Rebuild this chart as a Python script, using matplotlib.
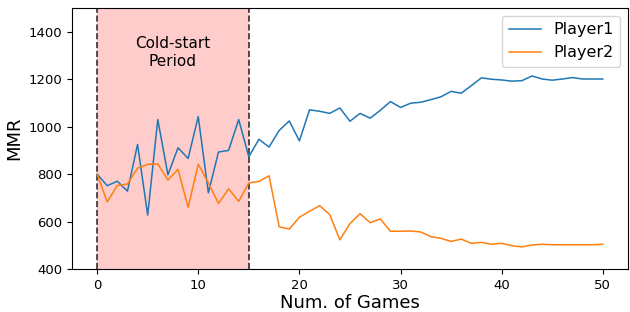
import matplotlib
matplotlib.use("Agg")
import matplotlib.pyplot as plt

games = list(range(51))

player1 = [800, 751, 770, 728, 925, 627, 1030, 797, 911, 866,
           1043, 721, 893, 900, 1030, 873, 947, 914, 984, 1024,
           940, 1071, 1065, 1056, 1079, 1023, 1056, 1036, 1069, 1106,
           1081, 1099, 1103, 1114, 1126, 1149, 1141, 1173, 1206, 1200,
           1197, 1192, 1194, 1214, 1201, 1196, 1201, 1207, 1201, 1201,
           1201]

player2 = [800, 683, 752, 758, 825, 841, 843, 775, 820, 660,
           842, 763, 676, 738, 685, 763, 769, 793, 578, 568,
           618, 643, 667, 629, 523, 591, 633, 595, 611, 559,
           559, 560, 556, 536, 529, 516, 526, 508, 512, 504,
           508, 498, 493, 501, 504, 502, 502, 502, 502, 502,
           504]

cold_start_end = 15

fig = plt.figure(figsize=(6.3, 3.12), dpi=100)
ax = fig.add_axes([0.114, 0.138, 0.883, 0.836])

ax.axvspan(0, cold_start_end, color="red", alpha=0.2, lw=0)
ax.axvline(0, color="black", ls="--", lw=1.2, alpha=0.8)
ax.axvline(cold_start_end, color="black", ls="--", lw=1.2, alpha=0.8)
ax.text(cold_start_end / 2, 1312, "Cold-start\nPeriod", ha="center",
        va="center", fontsize=11)

ax.plot(games, player1, lw=1.1, label="Player1")
ax.plot(games, player2, lw=1.1, label="Player2")

ax.set_ylim(400, 1500)
ax.set_yticks([400, 600, 800, 1000, 1200, 1400])
ax.set_xticks([0, 10, 20, 30, 40, 50])
ax.tick_params(labelsize=9.5)
ax.set_xlabel("Num. of Games", fontsize=13, labelpad=2)
ax.set_ylabel("MMR", fontsize=13)
ax.legend(fontsize=11.5, loc="upper right")

fig.savefig("out.png", dpi=100)
